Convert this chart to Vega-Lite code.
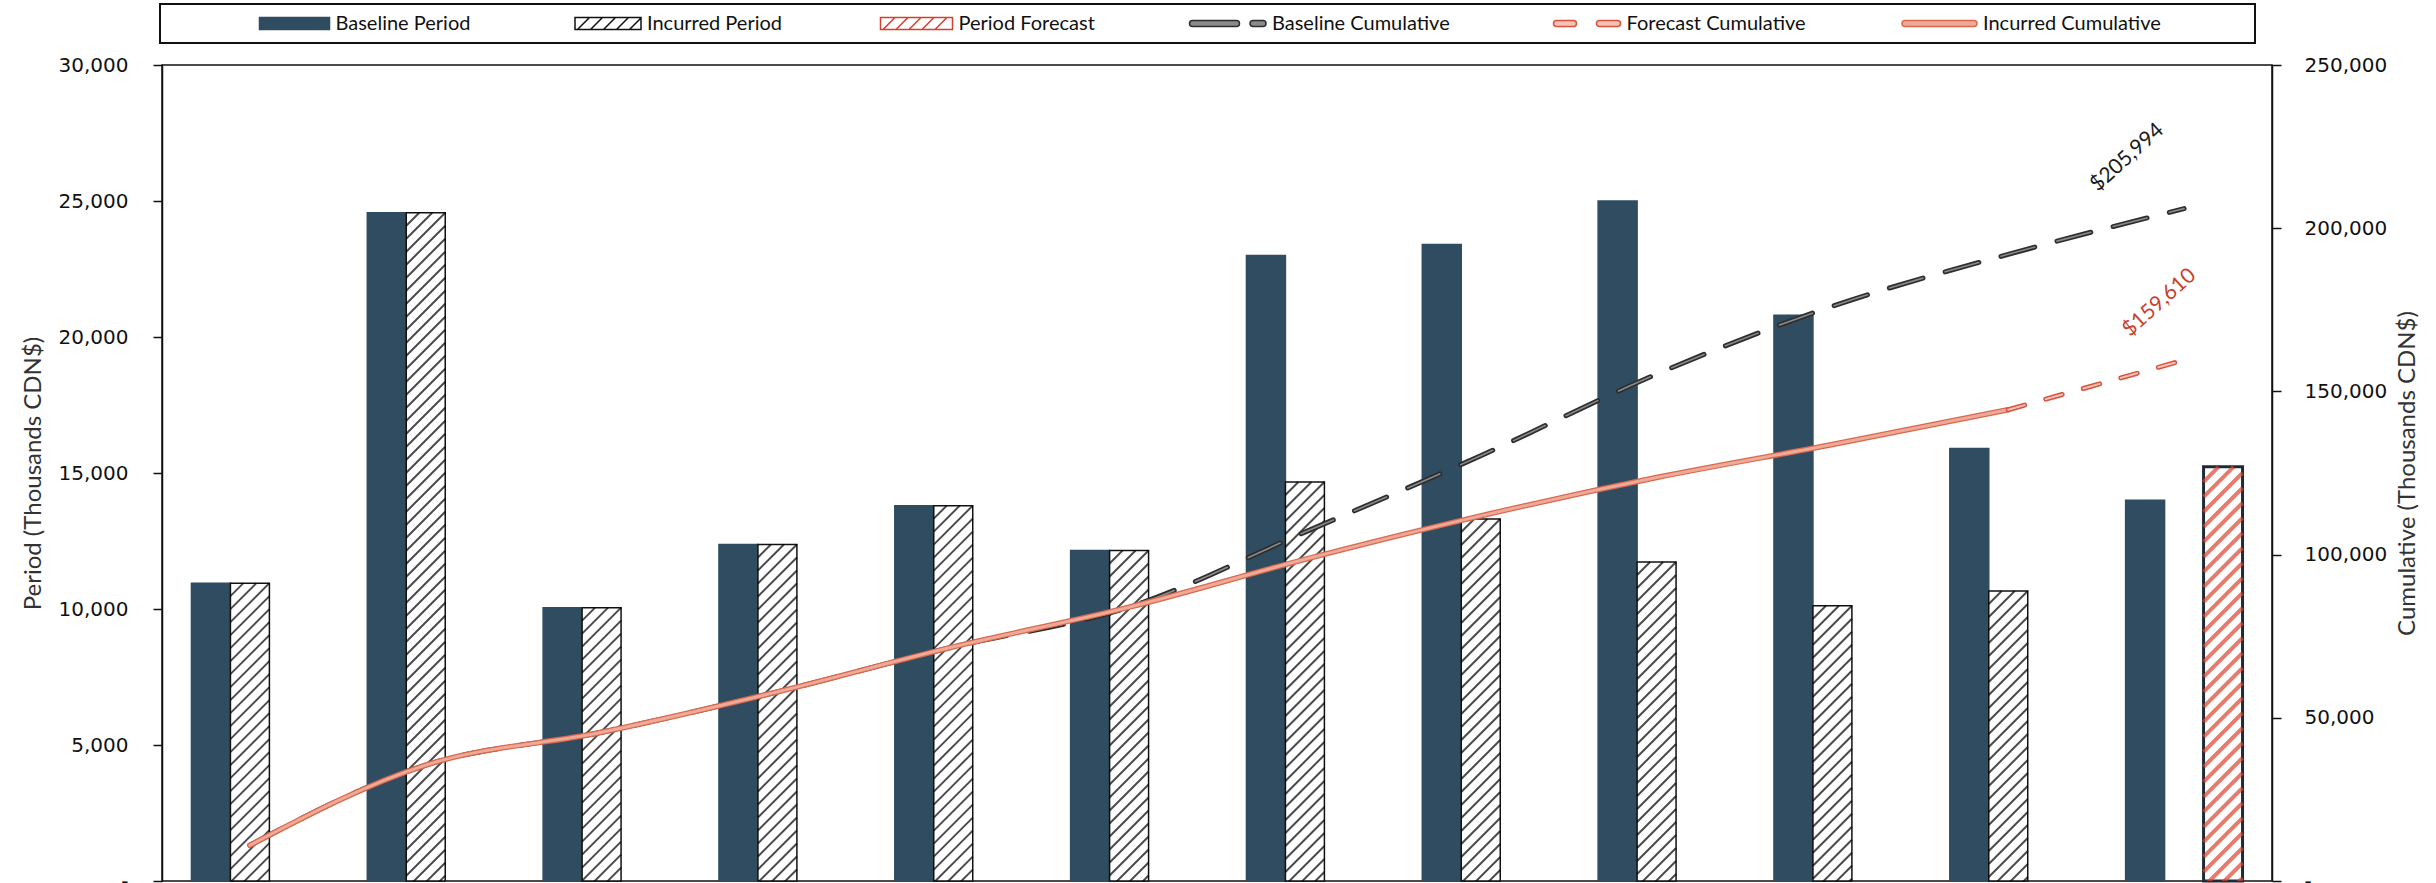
{
  "$schema": "https://vega.github.io/schema/vega-lite/v6.json",
  "autosize": {"type": "none"},
  "width": 2110,
  "height": 816,
  "padding": {"left": 162, "top": 65, "right": 164, "bottom": 2},
  "background": "white",
  "datasets": {
    "period": [
      {"period": 1, "series": "Baseline", "value": 10950},
      {"period": 1, "series": "Incurred", "value": 10950},
      {"period": 2, "series": "Baseline", "value": 24570},
      {"period": 2, "series": "Incurred", "value": 24570},
      {"period": 3, "series": "Baseline", "value": 10050},
      {"period": 3, "series": "Incurred", "value": 10050},
      {"period": 4, "series": "Baseline", "value": 12374},
      {"period": 4, "series": "Incurred", "value": 12374},
      {"period": 5, "series": "Baseline", "value": 13800},
      {"period": 5, "series": "Incurred", "value": 13800},
      {"period": 6, "series": "Baseline", "value": 12150},
      {"period": 6, "series": "Incurred", "value": 12150},
      {"period": 7, "series": "Baseline", "value": 23000},
      {"period": 7, "series": "Incurred", "value": 14670},
      {"period": 8, "series": "Baseline", "value": 23400},
      {"period": 8, "series": "Incurred", "value": 13310},
      {"period": 9, "series": "Baseline", "value": 25000},
      {"period": 9, "series": "Incurred", "value": 11730},
      {"period": 10, "series": "Baseline", "value": 20800},
      {"period": 10, "series": "Incurred", "value": 10120},
      {"period": 11, "series": "Baseline", "value": 15900},
      {"period": 11, "series": "Incurred", "value": 10660},
      {"period": 12, "series": "Baseline", "value": 14000},
      {"period": 12, "series": "Forecast", "value": 15226}
    ],
    "cumulative": [
      {"period": 1, "series": "Baseline Cumulative", "total": 10950},
      {"period": 2, "series": "Baseline Cumulative", "total": 35520},
      {"period": 3, "series": "Baseline Cumulative", "total": 45570},
      {"period": 4, "series": "Baseline Cumulative", "total": 57944},
      {"period": 5, "series": "Baseline Cumulative", "total": 71744},
      {"period": 6, "series": "Baseline Cumulative", "total": 83894},
      {"period": 7, "series": "Baseline Cumulative", "total": 106894},
      {"period": 8, "series": "Baseline Cumulative", "total": 130294},
      {"period": 9, "series": "Baseline Cumulative", "total": 155294},
      {"period": 10, "series": "Baseline Cumulative", "total": 176094},
      {"period": 11, "series": "Baseline Cumulative", "total": 191994},
      {"period": 12, "series": "Baseline Cumulative", "total": 205994},
      {"period": 1, "series": "Incurred Cumulative", "total": 10950},
      {"period": 2, "series": "Incurred Cumulative", "total": 35520},
      {"period": 3, "series": "Incurred Cumulative", "total": 45570},
      {"period": 4, "series": "Incurred Cumulative", "total": 57944},
      {"period": 5, "series": "Incurred Cumulative", "total": 71744},
      {"period": 6, "series": "Incurred Cumulative", "total": 83894},
      {"period": 7, "series": "Incurred Cumulative", "total": 98564},
      {"period": 8, "series": "Incurred Cumulative", "total": 111874},
      {"period": 9, "series": "Incurred Cumulative", "total": 123604},
      {"period": 10, "series": "Incurred Cumulative", "total": 133724},
      {"period": 11, "series": "Incurred Cumulative", "total": 144384},
      {"period": 11, "series": "Forecast Cumulative", "total": 144384},
      {"period": 12, "series": "Forecast Cumulative", "total": 159610}
    ],
    "legendItems": [
      {"item": "Baseline Period"},
      {"item": "Incurred Period"},
      {"item": "Period Forecast"},
      {"item": "Baseline Cumulative"},
      {"item": "Forecast Cumulative"},
      {"item": "Incurred Cumulative"}
    ]
  },
  "layer": [
    {
      "data": {"name": "period"},
      "layer": [
        {
          "mark": {"type": "bar"},
          "encoding": {
            "x": {
              "field": "period", "type": "ordinal",
              "scale": {"domain": [1,2,3,4,5,6,7,8,9,10,11,12], "paddingInner": 0, "paddingOuter": 0},
              "axis": {"labels": false, "ticks": false, "domain": false, "title": null, "grid": true, "gridColor": "#222222", "gridWidth": 1, "bandPosition": 0}
            },
            "xOffset": {"field": "series", "type": "nominal", "scale": {"domain": ["Baseline", "Incurred", "Forecast"], "paddingInner": 0, "paddingOuter": 0.756}},
            "y": {
              "field": "value", "type": "quantitative",
              "scale": {"domain": [0, 30000], "nice": false},
              "axis": {
                "orient": "left",
                "title": "Period (Thousands CDN$)",
                "values": [0, 5000, 10000, 15000, 20000, 25000, 30000],
                "format": ",.0f",
                "labelExpr": "datum.value === 0 ? '-' : datum.label",
                "grid": false,
                "tickSize": 9, "tickColor": "#111111", "tickWidth": 1.5,
                "domainColor": "#111111", "domainWidth": 1.5,
                "labelFont": "DejaVu Sans", "labelFontSize": 20, "labelColor": "#111111", "labelPadding": 25,
                "labelFlush": false, "labelOverlap": false,
                "titleFont": "Lato", "titleFontSize": 24, "titleFontWeight": "normal", "titleColor": "#333333",
                "titleAngle": 270, "titleAlign": "center", "titleBaseline": "middle", "titleX": -129
              }
            },
            "fill": {
              "condition": [
                {"test": "datum.series === 'Baseline'", "value": "#2f4c60"}
              ],
              "value": "#ffffff"
            },
            "stroke": {
              "condition": [
                {"test": "datum.series === 'Baseline'", "value": "#2f4c60"},
                {"test": "datum.series === 'Forecast'", "value": "#1e2b36"}
              ],
              "value": "#111111"
            },
            "strokeWidth": {
              "condition": [
                {"test": "datum.series === 'Forecast'", "value": 3}
              ],
              "value": 1.5
            }
          }
        },
        {
          "transform": [{"filter": "datum.series !== 'Baseline'"}],
          "mark": {"type": "point", "filled": false, "clip": true, "size": 4, "strokeCap": "butt"},
          "encoding": {
            "x": {
              "field": "period", "type": "ordinal",
              "scale": {"domain": [1,2,3,4,5,6,7,8,9,10,11,12], "paddingInner": 0, "paddingOuter": 0},
              "axis": null
            },
            "xOffset": {"field": "series", "type": "nominal", "scale": {"domain": ["Baseline", "Incurred", "Forecast"], "paddingInner": 0, "paddingOuter": 0.756}},
            "y": {"field": "value", "type": "quantitative", "scale": {"domain": [0, 30000], "nice": false}},
            "shape": {
              "condition": {
                "test": "datum.series === 'Forecast'",
                "value": "M-19.5 15L-4.5 0M-19.5 30L10.5 0M-19.5 45L19.5 6m-39 54l39-39m-39 54l39-39m-39 54l39-39m-39 54l39-39m-39 54l39-39m-39 54l39-39m-39 54l39-39m-39 54l39-39m-39 54l39-39m-39 54l39-39m-39 54l39-39m-39 54l39-39m-39 54l39-39m-39 54l39-39m-39 54l39-39m-39 54l39-39m-39 54l39-39m-39 54l39-39m-39 54l39-39m-39 54l39-39m-39 54l39-39m-39 54l39-39m-39 54l39-39m-39 54l39-39m-39 54l39-39m-39 54l39-39m-39 54l39-39m-39 54l39-39"
              },
              "value": "M-19.5 13L-6.5 0M-19.5 26L6.5 0M-19.5 39L19.5 0m-39 52l39-39m-39 52l39-39m-39 52l39-39m-39 52l39-39m-39 52l39-39m-39 52l39-39m-39 52l39-39m-39 52l39-39m-39 52l39-39m-39 52l39-39m-39 52l39-39m-39 52l39-39m-39 52l39-39m-39 52l39-39m-39 52l39-39m-39 52l39-39m-39 52l39-39m-39 52l39-39m-39 52l39-39m-39 52l39-39m-39 52l39-39m-39 52l39-39m-39 52l39-39m-39 52l39-39m-39 52l39-39m-39 52l39-39m-39 52l39-39m-39 52l39-39m-39 52l39-39m-39 52l39-39m-39 52l39-39m-39 52l39-39m-39 52l39-39m-39 52l39-39m-39 52l39-39m-39 52l39-39m-39 52l39-39m-39 52l39-39m-39 52l39-39m-39 52l39-39m-39 52l39-39m-39 52l39-39m-39 52l39-39m-39 52l39-39m-39 52l39-39m-39 52l39-39m-39 52l39-39m-39 52l39-39m-39 52l39-39m-39 52l39-39m-39 52l39-39m-39 52l39-39"
            },
            "stroke": {
              "condition": {"test": "datum.series === 'Forecast'", "value": "#db4330"},
              "value": "#000000"
            },
            "strokeWidth": {
              "condition": {"test": "datum.series === 'Forecast'", "value": 4},
              "value": 2
            }
          }
        }
      ]
    },
    {
      "data": {"name": "cumulative"},
      "encoding": {
        "x": {
          "field": "period", "type": "ordinal",
          "scale": {"domain": [1,2,3,4,5,6,7,8,9,10,11,12], "paddingInner": 0, "paddingOuter": 0},
          "axis": null
        },
        "y": {
          "field": "total", "type": "quantitative",
          "scale": {"domain": [0, 250000], "nice": false},
          "axis": {
            "orient": "right",
            "title": "Cumulative (Thousands CDN$)",
            "values": [0, 50000, 100000, 150000, 200000, 250000],
            "format": ",.0f",
            "labelExpr": "datum.value === 0 ? '-' : datum.label",
            "grid": false,
            "tickSize": 9, "tickColor": "#111111", "tickWidth": 1.5,
            "domainColor": "#111111", "domainWidth": 1.5,
            "labelFont": "DejaVu Sans", "labelFontSize": 20, "labelColor": "#111111", "labelPadding": 23,
            "labelFlush": false, "labelOverlap": false,
            "titleFont": "Lato", "titleFontSize": 24, "titleFontWeight": "normal", "titleColor": "#333333",
            "titleAngle": 270, "titleAlign": "center", "titleBaseline": "middle", "titleX": 135
          }
        }
      },
      "layer": [
        {
          "transform": [{"filter": "datum.series === 'Baseline Cumulative'"}],
          "mark": {"type": "line", "interpolate": "monotone", "stroke": "#2e2e2e", "strokeWidth": 5, "strokeDash": [35, 23], "strokeCap": "round"}
        },
        {
          "transform": [{"filter": "datum.series === 'Baseline Cumulative'"}],
          "mark": {"type": "line", "interpolate": "monotone", "stroke": "#8a8a8a", "strokeWidth": 1.6, "strokeDash": [35, 23], "strokeCap": "round"}
        },
        {
          "transform": [{"filter": "datum.series === 'Incurred Cumulative'"}],
          "mark": {"type": "line", "interpolate": "monotone", "stroke": "#d9684f", "strokeWidth": 5.5, "strokeCap": "round"}
        },
        {
          "transform": [{"filter": "datum.series === 'Incurred Cumulative'"}],
          "mark": {"type": "line", "interpolate": "monotone", "stroke": "#eeaa96", "strokeWidth": 3, "strokeCap": "round"}
        },
        {
          "transform": [{"filter": "datum.series === 'Forecast Cumulative'"}],
          "mark": {"type": "line", "stroke": "#d9533f", "strokeWidth": 5, "strokeDash": [17, 22], "strokeCap": "round"}
        },
        {
          "transform": [{"filter": "datum.series === 'Forecast Cumulative'"}],
          "mark": {"type": "line", "stroke": "#f4c3b4", "strokeWidth": 2, "strokeDash": [17, 22], "strokeCap": "round"}
        },
        {
          "transform": [{"filter": "datum.series === 'Baseline Cumulative' && datum.period === 12"}],
          "mark": {"type": "text", "angle": 318, "align": "left", "baseline": "alphabetic", "dx": -53, "dy": -70, "font": "Lato", "fontSize": 21, "color": "#1a1a1a"},
          "encoding": {"text": {"field": "total", "type": "quantitative", "format": "$,.0f"}}
        },
        {
          "transform": [{"filter": "datum.series === 'Forecast Cumulative' && datum.period === 12"}],
          "mark": {"type": "text", "angle": 318, "align": "left", "baseline": "alphabetic", "dx": -25, "dy": -53, "font": "Lato", "fontSize": 21, "color": "#c8412d"},
          "encoding": {"text": {"field": "total", "type": "quantitative", "format": "$,.0f"}}
        }
      ]
    },
    {
      "data": {"name": "legendItems"},
      "mark": {"type": "point", "opacity": 0, "strokeWidth": 1.5},
      "encoding": {
        "fill": {
          "field": "item", "type": "nominal",
          "scale": {
            "domain": ["Baseline Period", "Incurred Period", "Period Forecast", "Baseline Cumulative", "Forecast Cumulative", "Incurred Cumulative"],
            "range": ["#2f4c60", "#ffffff", "#ffffff", "#8a8a8a", "#f4c3b4", "#eeaa96"]
          },
          "legend": {"title": null, "orient": "none", "legendX": -2, "legendY": -61, "direction": "horizontal", "columns": 6, "columnPadding": 10.5, "padding": 9.5, "strokeColor": "#111111", "symbolSize": 4, "symbolStrokeWidth": 1.5, "symbolOpacity": 1, "symbolFillColor": "#ffffff", "symbolStrokeColor": "#000000", "symbolOffset": 141.5, "labelFont": "Lato", "labelFontSize": 20, "labelColor": "#111111", "labelOffset": 4.5, "labelLimit": 400, "rowPadding": 0}
        },
        "stroke": {
          "field": "item", "type": "nominal",
          "scale": {
            "domain": ["Baseline Period", "Incurred Period", "Period Forecast", "Baseline Cumulative", "Forecast Cumulative", "Incurred Cumulative"],
            "range": ["#2f4c60", "#111111", "#d2402f", "#2e2e2e", "#d9533f", "#d9684f"]
          },
          "legend": {"title": null, "orient": "none", "legendX": -2, "legendY": -61, "direction": "horizontal", "columns": 6, "columnPadding": 10.5, "padding": 9.5, "strokeColor": "#111111", "symbolSize": 4, "symbolStrokeWidth": 1.5, "symbolOpacity": 1, "symbolFillColor": "#ffffff", "symbolStrokeColor": "#000000", "symbolOffset": 141.5, "labelFont": "Lato", "labelFontSize": 20, "labelColor": "#111111", "labelOffset": 4.5, "labelLimit": 400, "rowPadding": 0}
        },
        "shape": {
          "field": "item", "type": "nominal",
          "scale": {
            "domain": ["Baseline Period", "Incurred Period", "Period Forecast", "Baseline Cumulative", "Forecast Cumulative", "Incurred Cumulative"],
            "range": [
              "M-61.5-6H8.5V6H-61.5Z",
              "M-57.5-6H8.5V6H-57.5ZM-55 6l12-12M-42 6l12-12M-29 6l12-12M-16 6l12-12M-3 6l11.5-11.5",
              "M-63.5-6H8.5V6H-63.5ZM-61 6l12-12M-48 6l12-12M-35 6l12-12M-22 6l12-12M-9 6l12-12",
              "M-65-3H-21A3 3 0 0 1 -21 3H-65A3 3 0 0 1 -65-3ZM-4.5-3H5.5A3 3 0 0 1 5.5 3H-4.5A3 3 0 0 1 -4.5-3Z",
              "M-55.5-3H-38.5A3 3 0 0 1 -38.5 3H-55.5A3 3 0 0 1 -55.5-3ZM-12.5-3H5.5A3 3 0 0 1 5.5 3H-12.5A3 3 0 0 1 -12.5-3Z",
              "M-63.5-3H5.5A3 3 0 0 1 5.5 3H-63.5A3 3 0 0 1 -63.5-3ZM274 0"
            ]
          },
          "legend": {"title": null, "orient": "none", "legendX": -2, "legendY": -61, "direction": "horizontal", "columns": 6, "columnPadding": 10.5, "padding": 9.5, "strokeColor": "#111111", "symbolSize": 4, "symbolStrokeWidth": 1.5, "symbolOpacity": 1, "symbolFillColor": "#ffffff", "symbolStrokeColor": "#000000", "symbolOffset": 141.5, "labelFont": "Lato", "labelFontSize": 20, "labelColor": "#111111", "labelOffset": 4.5, "labelLimit": 400, "rowPadding": 0}
        }
      }
    }
  ],
  "resolve": {"scale": {"y": "independent"}},
  "config": {
    "view": {"stroke": "#111111", "strokeWidth": 1.5},
    "legend": {"strokeWidth": 2}
  }
}
